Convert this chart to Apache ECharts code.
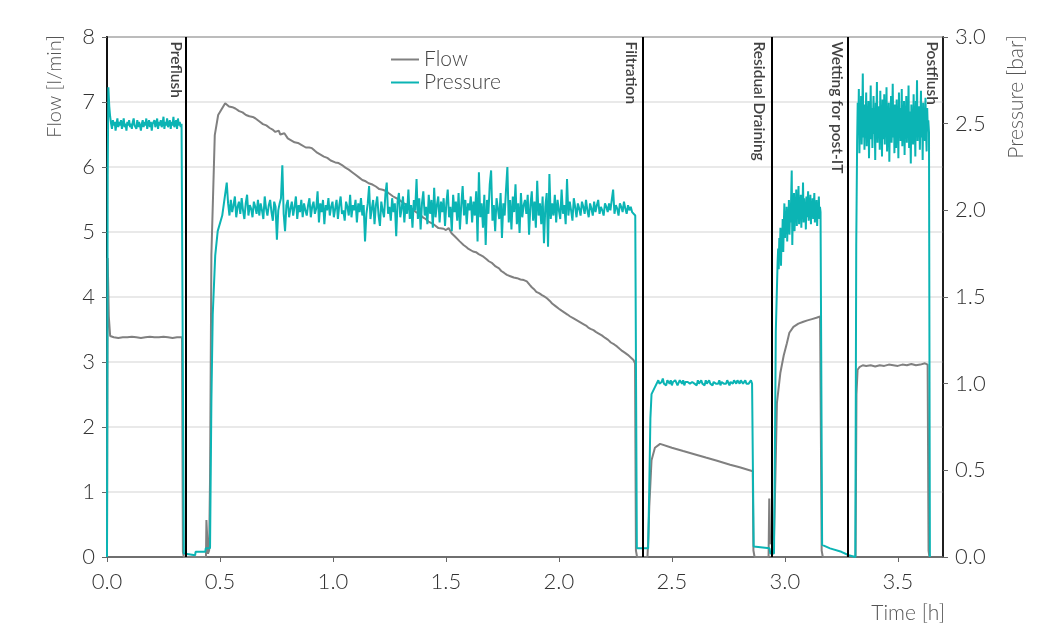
<!DOCTYPE html>
<html><head><meta charset="utf-8">
<script src="https://cdn.jsdelivr.net/npm/echarts@6/dist/echarts.min.js"></script>
<style>html,body{margin:0;padding:0;background:#fff}#c{width:1042px;height:624px}</style>
</head><body><div id="c"></div>
<script>
// ---------- DATA ----------
const xTickStep = 0.5;
const phaseNames = ['Preflush', 'Filtration', 'Residual Draining', 'Wetting for post-IT', 'Postflush'];
const phaseEnds = [0.355, 2.37, 2.936, 3.283, 3.7];

// Flow [l/min] vs time [h]
const flowPreflush = [[0,0],[0.003,4.6],[0.008,3.7],[0.014,3.40],[0.03,3.38],[0.05,3.37],[0.07,3.38],[0.09,3.38],[0.11,3.39],[0.13,3.38],[0.15,3.37],[0.17,3.38],[0.19,3.39],[0.21,3.38],[0.23,3.38],[0.25,3.39],[0.27,3.38],[0.29,3.37],[0.31,3.38],[0.332,3.38],[0.336,0.08],[0.340,0],[0.438,0],[0.440,0.57],[0.445,0.60],[0.447,0.05],[0.452,0.1],[0.456,1.2]];
const flowFiltration = [[0.462,4.65],[0.477,6.49],[0.492,6.80],[0.523,6.98],[0.54,6.93],[0.555,6.92],[0.568,6.90],[0.585,6.86],[0.60,6.84],[0.615,6.80],[0.63,6.78],[0.645,6.77],[0.656,6.75],[0.675,6.70],[0.69,6.66],[0.705,6.64],[0.72,6.60],[0.735,6.57],[0.745,6.54],[0.76,6.56],[0.767,6.50],[0.774,6.47],[0.785,6.52],[0.80,6.44],[0.815,6.41],[0.83,6.38],[0.845,6.37],[0.86,6.34],[0.88,6.30],[0.895,6.30],[0.907,6.29],[0.92,6.25],[0.93,6.22],[0.945,6.19],[0.96,6.16],[0.975,6.14],[0.99,6.10],[1.01,6.07],[1.025,6.06],[1.04,6.03],[1.055,5.99],[1.07,5.96],[1.085,5.92],[1.10,5.88],[1.115,5.84],[1.13,5.80],[1.145,5.78],[1.158,5.75],[1.175,5.73],[1.19,5.70],[1.205,5.66],[1.22,5.65],[1.235,5.63],[1.246,5.60],[1.265,5.55],[1.28,5.52],[1.295,5.49],[1.31,5.45],[1.325,5.42],[1.34,5.38],[1.355,5.34],[1.37,5.30],[1.385,5.27],[1.40,5.22],[1.41,5.20],[1.423,5.16],[1.445,5.12],[1.467,5.06],[1.49,5.05],[1.50,5.03],[1.512,5.06],[1.525,4.98],[1.54,4.93],[1.56,4.86],[1.578,4.80],[1.59,4.77],[1.60,4.74],[1.62,4.70],[1.633,4.69],[1.645,4.66],[1.666,4.62],[1.68,4.58],[1.69,4.55],[1.705,4.52],[1.72,4.47],[1.735,4.44],[1.745,4.40],[1.758,4.37],[1.770,4.34],[1.785,4.32],[1.80,4.30],[1.815,4.29],[1.83,4.27],[1.845,4.26],[1.858,4.24],[1.87,4.19],[1.88,4.15],[1.89,4.12],[1.90,4.08],[1.912,4.06],[1.925,4.03],[1.935,4.01],[1.947,3.98],[1.96,3.94],[1.97,3.90],[1.985,3.86],[2.00,3.82],[2.012,3.79],[2.025,3.76],[2.038,3.73],[2.050,3.70],[2.065,3.67],[2.08,3.64],[2.095,3.61],[2.11,3.58],[2.12,3.56],[2.13,3.53],[2.14,3.51],[2.153,3.49],[2.165,3.46],[2.18,3.43],[2.19,3.41],[2.205,3.37],[2.218,3.34],[2.23,3.30],[2.245,3.27],[2.257,3.24],[2.27,3.20],[2.28,3.17],[2.293,3.14],[2.305,3.11],[2.318,3.07],[2.330,3.03],[2.337,2.98],[2.341,0.1],[2.346,0]];
const flowResidual = [[2.392,0],[2.396,0.3],[2.40,0.77],[2.41,1.49],[2.425,1.68],[2.448,1.74],[2.50,1.68],[2.55,1.63],[2.611,1.57],[2.65,1.53],[2.70,1.48],[2.758,1.42],[2.80,1.38],[2.858,1.32],[2.861,0.1],[2.866,0],[2.928,0],[2.931,0.9],[2.935,0.2],[2.952,0.3]];
const flowWetting = [[2.958,1.2],[2.965,2.37],[2.98,2.83],[2.995,3.10],[3.009,3.29],[3.02,3.45],[3.038,3.54],[3.06,3.59],[3.082,3.62],[3.10,3.64],[3.12,3.66],[3.14,3.68],[3.156,3.70],[3.160,3.72],[3.163,0.1],[3.168,0],[3.313,0]];
const flowPostflush = [[3.317,2.5],[3.322,2.88],[3.33,2.92],[3.345,2.95],[3.36,2.94],[3.38,2.95],[3.40,2.93],[3.42,2.95],[3.44,2.94],[3.46,2.96],[3.48,2.95],[3.50,2.94],[3.52,2.96],[3.54,2.95],[3.56,2.97],[3.58,2.95],[3.60,2.96],[3.62,2.98],[3.632,2.96],[3.636,0.1],[3.640,0]];

// Pressure [bar]: steps/transitions as [t, p]; noisy plateaus as logged samples (start, step, values)
const presStart = [[0,0],[0.003,2.2],[0.006,2.71],[0.010,2.60]];
const presPreflushT0 = 0.014, presPreflushDt = 0.004;
const presPreflush = [2.54,2.50,2.47,2.52,2.49,2.51,2.46,2.50,2.53,2.48,
2.51,2.49,2.52,2.47,2.50,2.53,2.48,2.50,2.46,2.51,
2.49,2.52,2.48,2.50,2.47,2.51,2.53,2.49,2.50,2.47,
2.52,2.48,2.51,2.49,2.46,2.50,2.52,2.48,2.51,2.49,
2.53,2.47,2.50,2.52,2.48,2.51,2.46,2.50,2.49,2.52,
2.48,2.50,2.53,2.47,2.51,2.49,2.52,2.48,2.50,2.54,
2.47,2.51,2.49,2.53,2.48,2.50,2.52,2.47,2.51,2.49,
2.54,2.48,2.50,2.52,2.47,2.53,2.49,2.51,2.48,2.50,2.49];
const presGap1 = [[0.337,2.49],[0.340,0.02],[0.345,0.01],[0.390,0.01],[0.392,0.03],[0.435,0.03],[0.437,0.05],[0.456,0.05],[0.462,0.9],[0.468,1.4],[0.479,1.74],[0.49,1.88],[0.51,1.97]];
const presFiltrationT0 = 0.530, presFiltrationDt = 0.006;
const presFiltration = [
2.16,2.04,1.97,2.06,1.99,2.03,2.08,1.96,2.02,2.05,1.98,2.07,2.00,1.95,2.04,2.09,1.97,2.03,2.01,1.96,
2.05,2.02,1.98,2.06,1.97,2.04,2.00,1.95,2.08,2.01,1.97,2.03,2.06,1.99,1.94,2.05,2.02,1.83,2.00,2.04,
2.07,2.26,1.98,1.88,2.03,2.06,1.96,2.01,2.05,1.97,2.02,2.08,1.95,2.03,1.99,2.06,1.96,2.04,2.00,1.97,
2.03,2.07,1.96,2.02,2.05,1.98,2.01,2.11,1.93,2.04,1.99,2.06,1.92,2.03,2.00,2.07,1.97,2.02,2.05,1.96,
2.01,2.06,1.95,2.03,2.08,1.98,2.00,1.94,2.05,2.02,1.97,2.09,1.96,2.03,2.00,2.06,1.93,2.04,1.99,2.07,
1.97,2.03,1.82,1.98,2.04,2.14,1.95,2.01,2.06,1.92,2.03,2.08,1.97,1.91,2.05,2.00,1.96,2.09,2.16,1.98,
2.02,1.94,2.07,1.99,2.04,1.85,2.05,2.10,1.96,2.01,2.08,1.93,2.04,1.98,2.12,1.95,2.03,1.90,2.06,2.00,
2.18,1.95,2.07,1.89,2.04,2.11,1.97,2.02,1.92,2.09,1.98,2.06,1.90,2.13,1.96,2.03,2.08,1.93,2.05,1.99,
2.07,1.91,2.04,2.12,1.96,2.02,1.88,2.09,1.99,2.05,1.94,2.10,1.89,2.03,2.14,1.97,2.06,1.92,2.04,2.00,
2.08,1.93,2.05,1.97,2.11,1.82,2.22,1.96,2.04,1.90,2.09,1.80,2.06,1.98,2.15,2.23,1.94,2.03,1.88,2.07,
2.01,1.95,2.10,1.84,2.04,1.97,2.12,2.25,1.93,2.06,1.89,2.08,1.99,2.15,1.92,2.04,1.87,2.10,1.96,2.03,
2.06,1.98,2.09,1.86,2.03,2.11,1.94,2.05,1.90,2.17,1.97,2.04,1.92,2.08,1.81,2.02,2.10,1.79,2.21,1.95,
2.04,1.97,2.09,1.93,2.06,2.00,1.95,2.12,1.98,2.03,1.92,2.18,1.97,2.05,2.00,1.94,2.07,2.02,1.96,2.04,
2.01,1.97,2.05,2.02,1.98,2.06,2.00,1.96,2.04,2.01,1.97,2.05,1.99,2.03,2.06,1.98,2.02,2.00,1.97,2.04,
2.02,1.99,2.04,2.00,2.06,2.12,1.98,2.03,2.01,1.97,2.04,2.02,1.99,2.05,2.01,1.98,2.03,2.00,2.02,1.99,
2.00];
const presGap2 = [[2.338,1.97],[2.345,0.05],[2.395,0.05],[2.400,0.4],[2.405,0.8],[2.41,0.94],[2.425,0.98]];
const presResidualT0 = 2.44, presResidualDt = 0.005;
const presResidual = [1.02,1.00,0.99,1.01,1.03,1.00,1.01,0.99,1.02,1.01,
1.00,1.02,0.99,1.01,1.00,1.02,1.01,0.99,1.00,1.02,
1.01,1.00,1.02,0.99,1.01,1.00,1.01,1.02,1.00,0.99,
1.01,1.02,1.00,1.01,0.99,1.02,1.00,1.01,1.02,1.00,
1.01,0.99,1.02,1.00,1.01,1.02,1.00,1.01,0.99,1.01,
1.02,1.00,1.01,1.00,1.02,0.99,1.01,1.02,1.00,1.01,
1.00,1.02,1.01,0.99,1.01,1.02,1.00,1.02,1.01,1.00,
1.02,1.01,1.00,1.02,1.01,1.00,1.01,1.02,1.00,1.01,
1.00,1.01,1.02,1.00];
const presGap3 = [[2.858,1.00],[2.862,0.06],[2.932,0.05],[2.936,0.02],[2.952,0.02],[2.956,0.6],[2.960,1.3]];
const presWettingT0 = 2.968, presWettingDt = 0.0025;
const presWetting = [1.70,1.78,1.66,1.84,1.74,1.90,1.68,1.86,1.80,1.95,
1.76,1.92,2.04,1.84,1.97,1.88,2.02,1.82,1.96,1.90,
2.06,1.86,1.99,1.93,2.08,2.23,1.80,2.00,1.94,2.10,
1.88,2.04,1.97,2.12,1.91,2.06,1.99,2.14,1.92,2.03,
1.96,2.09,1.90,2.05,2.00,2.16,1.93,2.07,1.98,2.02,
1.89,2.08,1.96,2.04,2.11,1.94,2.01,1.97,2.09,1.92,
2.05,1.99,2.07,1.95,2.02,2.10,1.93,2.04,1.98,2.06,
1.91,2.03,1.97,2.08,1.95,2.02,1.99];
const presGap4 = [[3.162,1.98],[3.165,0.07],[3.20,0.05],[3.25,0.03],[3.283,0.01],[3.312,0.0],[3.316,1.8]];
const presPostflushT0 = 3.320, presPostflushDt = 0.0025;
const presPostflush = [2.40,2.62,2.46,2.70,2.33,2.56,2.44,2.66,2.38,2.52,
2.79,2.42,2.58,2.35,2.61,2.49,2.68,2.37,2.55,2.45,
2.63,2.30,2.53,2.47,2.72,2.41,2.59,2.36,2.50,2.66,
2.44,2.57,2.29,2.62,2.48,2.74,2.39,2.54,2.46,2.60,
2.35,2.69,2.43,2.56,2.31,2.64,2.50,2.41,2.67,2.38,
2.58,2.45,2.71,2.34,2.53,2.47,2.62,2.28,2.55,2.44,
2.66,2.39,2.52,2.73,2.42,2.57,2.33,2.61,2.48,2.36,
2.64,2.46,2.55,2.30,2.68,2.43,2.59,2.40,2.51,2.70,
2.37,2.54,2.45,2.63,2.32,2.58,2.47,2.66,2.39,2.52,
2.44,2.72,2.36,2.57,2.49,2.27,2.61,2.43,2.55,2.38,
2.67,2.46,2.53,2.31,2.63,2.48,2.75,2.40,2.56,2.44,
2.60,2.35,2.51,2.69,2.42,2.58,2.29,2.62,2.47,2.53,
2.40,2.65,2.45,2.34,2.59,2.48,2.52];
const presEnd = [[3.638,2.45],[3.642,0]];

// ---------- BUILD ----------
function sampled(t0, dt, vals) { return vals.map((v, i) => [+(t0 + i * dt).toFixed(4), v]); }
const flowData = [].concat(flowPreflush, flowFiltration, flowResidual, flowWetting, flowPostflush);
const pressureData = [].concat(
  presStart, sampled(presPreflushT0, presPreflushDt, presPreflush),
  presGap1, sampled(presFiltrationT0, presFiltrationDt, presFiltration),
  presGap2, sampled(presResidualT0, presResidualDt, presResidual),
  presGap3, sampled(presWettingT0, presWettingDt, presWetting),
  presGap4, sampled(presPostflushT0, presPostflushDt, presPostflush),
  presEnd);

const FONT = 'Lato';
const FLOW_C = '#808080', PRES_C = '#0bb4b4';
const chart = echarts.init(document.getElementById('c'), null, {renderer: 'canvas'});
chart.setOption({
  animation: false,
  backgroundColor: '#fff',
  textStyle: {fontFamily: FONT},
  grid: {left: 107, right: 99, top: 37, bottom: 67, show: true, borderColor: '#111', borderWidth: 1.5, backgroundColor: 'transparent'},
  legend: {
    data: ['Flow', 'Pressure'], orient: 'vertical', left: 386, top: 44, itemWidth: 28, itemHeight: 12, itemGap: 2,
    textStyle: {fontSize: 21, color: '#444', fontFamily: FONT, fontWeight: 300}, icon: 'path://M0,5 L28,5 L28,7 L0,7 Z'
  },
  xAxis: {
    type: 'value', min: 0, max: 3.7, interval: xTickStep,
    axisLine: {show: true, lineStyle: {color: '#555', width: 1.5}},
    axisTick: {show: true, length: 5, lineStyle: {color: '#666', width: 1}},
    axisLabel: {fontSize: 22, color: '#333', margin: 14, fontWeight: 300, fontFamily: FONT, showMaxLabel: false, formatter: v => v.toFixed(1)},
    splitLine: {show: false}
  },
  yAxis: [{
    type: 'value', min: 0, max: 8, interval: 1, position: 'left',
    axisLine: {show: true, lineStyle: {color: '#111', width: 2}},
    axisTick: {show: true, length: 5, lineStyle: {color: '#666'}},
    axisLabel: {fontSize: 22, color: '#333', margin: 12, fontWeight: 300, fontFamily: FONT},
    splitLine: {show: true, lineStyle: {color: '#e2e2e2', width: 1.5}}
  }, {
    type: 'value', min: 0, max: 3, interval: 0.5, position: 'right',
    axisLine: {show: true, lineStyle: {color: '#111', width: 1.5}},
    axisTick: {show: true, length: 5, lineStyle: {color: '#666'}},
    axisLabel: {fontSize: 22, color: '#333', margin: 12, fontWeight: 300, fontFamily: FONT, formatter: v => v.toFixed(1)},
    splitLine: {show: false}
  }],
  graphic: [
    {type: 'text', x: 55, y: 35, rotation: Math.PI / 2, style: {text: 'Flow [l/min]', align: 'right', verticalAlign: 'middle', fontSize: 20, fontWeight: 300, fontFamily: FONT, fill: '#555'}},
    {type: 'text', x: 1016, y: 35, rotation: Math.PI / 2, style: {text: 'Pressure [bar]', align: 'right', verticalAlign: 'middle', fontSize: 21, fontWeight: 300, fontFamily: FONT, fill: '#555'}},
    {type: 'text', x: 945, y: 613, style: {text: 'Time [h]', align: 'right', verticalAlign: 'middle', fontSize: 21, fontWeight: 300, fontFamily: FONT, fill: '#555'}}
  ],
  series: [{
    name: 'Flow', type: 'line', yAxisIndex: 0, data: flowData, symbol: 'none', showSymbol: false,
    lineStyle: {color: FLOW_C, width: 2}, itemStyle: {color: FLOW_C}, z: 2,
    markLine: {
      symbol: ['none', 'none'], silent: true, label: {show: false}, animation: false,
      lineStyle: {color: '#000', width: 2, type: 'solid'}, emphasis: {disabled: true},
      data: phaseEnds.slice(0, 4).map(t => ({xAxis: t}))
    }
  }, {
    name: 'Pressure', type: 'line', yAxisIndex: 1, data: pressureData, symbol: 'none', showSymbol: false,
    lineStyle: {color: PRES_C, width: 2}, itemStyle: {color: PRES_C}, z: 3
  }, {
    name: 'phases', type: 'scatter', yAxisIndex: 0, symbolSize: 1, silent: true, z: 5,
    itemStyle: {color: 'rgba(0,0,0,0)'},
    data: phaseNames.map((n, i) => ({name: n, value: [phaseEnds[i], 8]})),
    label: {show: true, formatter: p => p.name, rotate: -90, position: [-3, 5], align: 'left', verticalAlign: 'top',
      fontSize: 15.5, fontWeight: 600, color: '#111', fontFamily: FONT}
  }]
});
</script></body></html>
